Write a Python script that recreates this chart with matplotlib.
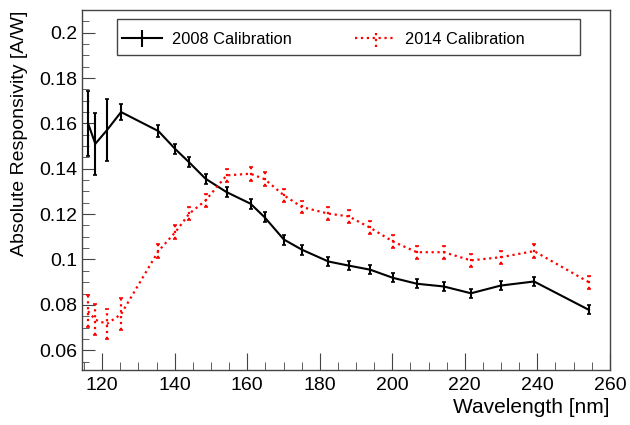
import matplotlib
matplotlib.use("Agg")
import matplotlib.pyplot as plt
import numpy as np
from matplotlib.ticker import MultipleLocator
from matplotlib.patches import Rectangle

# wavelengths [nm] and responsivity [A/W]
wl = [116.1, 118.1, 121.3, 125.2, 135.5, 140.2, 144.0, 148.5, 154.3, 160.9,
      164.8, 170.1, 175.1, 182.4, 188.0, 193.9, 200.2, 206.8, 214.2, 221.7,
      229.9, 239.1, 254.2]

resp2008 = [0.160, 0.151, 0.157, 0.165, 0.1566, 0.1486, 0.1428, 0.1356, 0.1297,
            0.1246, 0.1186, 0.1088, 0.1043, 0.0991, 0.0973, 0.0955, 0.0919,
            0.0893, 0.0881, 0.0851, 0.0885, 0.0903, 0.0778]
err2008 = [0.0144, 0.0136, 0.0137, 0.0035, 0.0025, 0.0022, 0.0022, 0.0022, 0.0022,
           0.0022, 0.0022, 0.0022, 0.0022, 0.0020, 0.0020, 0.0020, 0.0020,
           0.0020, 0.0020, 0.0020, 0.0020, 0.0020, 0.0020]

resp2014 = [0.0772, 0.0734, 0.0716, 0.0759, 0.1037, 0.1121, 0.1202, 0.1260, 0.1371,
            0.1378, 0.1354, 0.1283, 0.1231, 0.1202, 0.1190, 0.1140, 0.1079,
            0.1032, 0.1032, 0.0996, 0.1010, 0.1037, 0.0900]
err2014 = [0.0070, 0.0068, 0.0067, 0.0070, 0.0030, 0.0030, 0.0030, 0.0030, 0.0030,
           0.0030, 0.0030, 0.0028, 0.0028, 0.0028, 0.0028, 0.0028, 0.0028,
           0.0028, 0.0028, 0.0028, 0.0028, 0.0030, 0.0028]

plt.rcParams['font.family'] = ['Liberation Sans', 'DejaVu Sans']

fig = plt.figure(figsize=(6.3, 4.25), dpi=100)
ax = fig.add_axes([0.130, 0.129, 0.838, 0.847])

ax.errorbar(wl, resp2008, yerr=err2008, color='black', lw=1.5,
            elinewidth=1.5, capsize=1.6, capthick=1.2)
eb2 = ax.errorbar(wl, resp2014, yerr=err2014, color='red', lw=1.6, ls=':',
                  elinewidth=1.6, capsize=1.6, capthick=1.2)
eb2[2][0].set_linestyle(':')

# legend entries without caps (ROOT style "lep" markers)
h1 = ax.errorbar([np.nan], [np.nan], yerr=[0.01], color='black', lw=1.5,
                 elinewidth=1.5, capsize=0, label='2008 Calibration')
h2 = ax.errorbar([np.nan], [np.nan], yerr=[0.01], color='red', lw=1.6, ls=':',
                 elinewidth=1.6, capsize=0, label='2014 Calibration')
h2[2][0].set_linestyle(':')

ax.set_xlim(114.4, 260)
ax.set_ylim(0.0512, 0.2099)

ax.xaxis.set_major_locator(MultipleLocator(20))
ax.xaxis.set_minor_locator(MultipleLocator(5))
ax.yaxis.set_minor_locator(MultipleLocator(0.005))
ax.set_yticks([0.06, 0.08, 0.1, 0.12, 0.14, 0.16, 0.18, 0.2])
ax.set_yticklabels(['0.06', '0.08', '0.1', '0.12', '0.14', '0.16', '0.18', '0.2'])

ax.tick_params(which='both', direction='in', top=False, right=False,
               labelsize=14, color='#444444')
ax.tick_params(axis='x', which='major', length=12, pad=5)
ax.tick_params(axis='x', which='minor', length=6)
ax.tick_params(axis='y', which='major', length=9, pad=3)
ax.tick_params(axis='y', which='minor', length=5)

for s in ax.spines.values():
    s.set_color('#444444')
    s.set_linewidth(1.0)

ax.set_xlabel('Wavelength [nm]', fontsize=15, loc='right', labelpad=3)
ax.set_ylabel('Absolute Responsivity [A/W]', fontsize=14, loc='top', labelpad=8)

# legend box drawn separately, entries packed to the left of each half
ax.add_patch(Rectangle((0.066, 0.875), 0.877, 0.1, transform=ax.transAxes,
                       facecolor='white', edgecolor='#444444', lw=1.0, zorder=5))
leg = ax.legend(handles=[h1, h2], loc='center left', bbox_to_anchor=(0.066, 0.918),
                ncol=2, fontsize=11.8, frameon=False, borderaxespad=0,
                borderpad=0.3, handlelength=2.45, handletextpad=0.6,
                columnspacing=3.9)
leg.set_zorder(6)

fig.savefig('out.png', dpi=100)
